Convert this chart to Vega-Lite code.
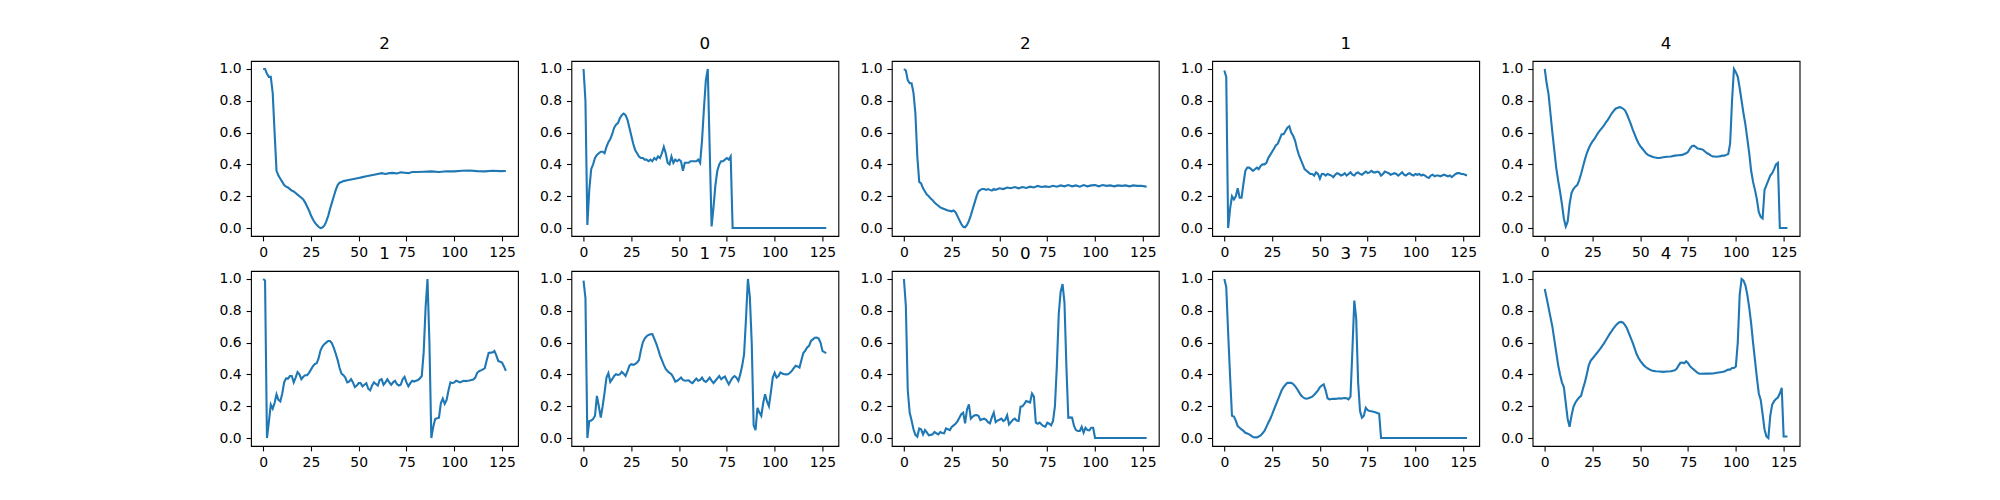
{
  "$schema": "https://vega.github.io/schema/vega-lite/v6.json",
  "background": "white",
  "padding": {"left": 218, "top": 35, "right": 10, "bottom": 10},
  "data": {"values": [
{"p":0,"t":0,"v":1.0},{"p":0,"t":1,"v":1.0},{"p":0,"t":2,"v":0.97},{"p":0,"t":3,"v":0.95},{"p":0,"t":4,"v":0.95},{"p":0,"t":5,"v":0.85},{"p":0,"t":6,"v":0.6},{"p":0,"t":7,"v":0.36},{"p":0,"t":8,"v":0.33},{"p":0,"t":9,"v":0.31},{"p":0,"t":10,"v":0.29},{"p":0,"t":11,"v":0.27},{"p":0,"t":12,"v":0.26},{"p":0,"t":13,"v":0.255},{"p":0,"t":14,"v":0.245},{"p":0,"t":15,"v":0.235},{"p":0,"t":16,"v":0.23},{"p":0,"t":17,"v":0.22},{"p":0,"t":18,"v":0.21},{"p":0,"t":19,"v":0.2},{"p":0,"t":20,"v":0.19},{"p":0,"t":21,"v":0.18},{"p":0,"t":22,"v":0.16},{"p":0,"t":23,"v":0.135},{"p":0,"t":24,"v":0.11},{"p":0,"t":25,"v":0.08},{"p":0,"t":26,"v":0.055},{"p":0,"t":27,"v":0.035},{"p":0,"t":28,"v":0.02},{"p":0,"t":29,"v":0.008},{"p":0,"t":30,"v":0.0},{"p":0,"t":31,"v":0.003},{"p":0,"t":32,"v":0.015},{"p":0,"t":33,"v":0.04},{"p":0,"t":34,"v":0.075},{"p":0,"t":35,"v":0.12},{"p":0,"t":36,"v":0.16},{"p":0,"t":37,"v":0.2},{"p":0,"t":38,"v":0.24},{"p":0,"t":39,"v":0.27},{"p":0,"t":40,"v":0.285},{"p":0,"t":41,"v":0.29},{"p":0,"t":42,"v":0.295},{"p":0,"t":44,"v":0.3},{"p":0,"t":46,"v":0.305},{"p":0,"t":48,"v":0.31},{"p":0,"t":50,"v":0.315},{"p":0,"t":52,"v":0.32},{"p":0,"t":54,"v":0.325},{"p":0,"t":56,"v":0.33},{"p":0,"t":58,"v":0.335},{"p":0,"t":60,"v":0.34},{"p":0,"t":62,"v":0.345},{"p":0,"t":64,"v":0.34},{"p":0,"t":66,"v":0.345},{"p":0,"t":68,"v":0.347},{"p":0,"t":70,"v":0.343},{"p":0,"t":72,"v":0.35},{"p":0,"t":74,"v":0.348},{"p":0,"t":76,"v":0.345},{"p":0,"t":78,"v":0.352},{"p":0,"t":80,"v":0.352},{"p":0,"t":84,"v":0.354},{"p":0,"t":88,"v":0.356},{"p":0,"t":92,"v":0.352},{"p":0,"t":96,"v":0.357},{"p":0,"t":100,"v":0.356},{"p":0,"t":104,"v":0.36},{"p":0,"t":108,"v":0.362},{"p":0,"t":112,"v":0.358},{"p":0,"t":116,"v":0.356},{"p":0,"t":120,"v":0.36},{"p":0,"t":124,"v":0.358},{"p":0,"t":127,"v":0.359},
{"p":1,"t":0,"v":1.0},{"p":1,"t":1,"v":0.8},{"p":1,"t":2,"v":0.02},{"p":1,"t":3,"v":0.24},{"p":1,"t":4,"v":0.37},{"p":1,"t":5,"v":0.4},{"p":1,"t":6,"v":0.44},{"p":1,"t":7,"v":0.46},{"p":1,"t":8,"v":0.47},{"p":1,"t":9,"v":0.48},{"p":1,"t":10,"v":0.48},{"p":1,"t":11,"v":0.47},{"p":1,"t":12,"v":0.51},{"p":1,"t":13,"v":0.54},{"p":1,"t":14,"v":0.56},{"p":1,"t":15,"v":0.59},{"p":1,"t":16,"v":0.63},{"p":1,"t":17,"v":0.65},{"p":1,"t":18,"v":0.66},{"p":1,"t":19,"v":0.69},{"p":1,"t":20,"v":0.71},{"p":1,"t":21,"v":0.72},{"p":1,"t":22,"v":0.71},{"p":1,"t":23,"v":0.68},{"p":1,"t":24,"v":0.63},{"p":1,"t":25,"v":0.58},{"p":1,"t":26,"v":0.53},{"p":1,"t":27,"v":0.49},{"p":1,"t":28,"v":0.47},{"p":1,"t":29,"v":0.45},{"p":1,"t":30,"v":0.44},{"p":1,"t":31,"v":0.44},{"p":1,"t":32,"v":0.43},{"p":1,"t":33,"v":0.43},{"p":1,"t":34,"v":0.42},{"p":1,"t":35,"v":0.43},{"p":1,"t":36,"v":0.42},{"p":1,"t":37,"v":0.44},{"p":1,"t":38,"v":0.43},{"p":1,"t":39,"v":0.45},{"p":1,"t":40,"v":0.44},{"p":1,"t":41,"v":0.47},{"p":1,"t":42,"v":0.51},{"p":1,"t":43,"v":0.47},{"p":1,"t":44,"v":0.41},{"p":1,"t":45,"v":0.4},{"p":1,"t":46,"v":0.45},{"p":1,"t":47,"v":0.41},{"p":1,"t":48,"v":0.43},{"p":1,"t":49,"v":0.42},{"p":1,"t":50,"v":0.43},{"p":1,"t":51,"v":0.42},{"p":1,"t":52,"v":0.36},{"p":1,"t":53,"v":0.41},{"p":1,"t":54,"v":0.41},{"p":1,"t":55,"v":0.41},{"p":1,"t":56,"v":0.42},{"p":1,"t":57,"v":0.42},{"p":1,"t":58,"v":0.42},{"p":1,"t":59,"v":0.42},{"p":1,"t":60,"v":0.43},{"p":1,"t":61,"v":0.41},{"p":1,"t":62,"v":0.55},{"p":1,"t":63,"v":0.75},{"p":1,"t":64,"v":0.93},{"p":1,"t":65,"v":1.0},{"p":1,"t":66,"v":0.5},{"p":1,"t":67,"v":0.01},{"p":1,"t":68,"v":0.13},{"p":1,"t":69,"v":0.27},{"p":1,"t":70,"v":0.36},{"p":1,"t":71,"v":0.4},{"p":1,"t":72,"v":0.42},{"p":1,"t":73,"v":0.42},{"p":1,"t":74,"v":0.43},{"p":1,"t":75,"v":0.44},{"p":1,"t":76,"v":0.43},{"p":1,"t":77,"v":0.45},{"p":1,"t":78,"v":0.0},{"p":1,"t":90,"v":0.0},{"p":1,"t":100,"v":0.0},{"p":1,"t":110,"v":0.0},{"p":1,"t":120,"v":0.0},{"p":1,"t":127,"v":0.0},
{"p":2,"t":0,"v":1.0},{"p":2,"t":1,"v":0.99},{"p":2,"t":2,"v":0.93},{"p":2,"t":3,"v":0.91},{"p":2,"t":4,"v":0.91},{"p":2,"t":5,"v":0.85},{"p":2,"t":6,"v":0.72},{"p":2,"t":7,"v":0.45},{"p":2,"t":8,"v":0.29},{"p":2,"t":9,"v":0.28},{"p":2,"t":10,"v":0.25},{"p":2,"t":11,"v":0.23},{"p":2,"t":12,"v":0.21},{"p":2,"t":13,"v":0.2},{"p":2,"t":14,"v":0.185},{"p":2,"t":15,"v":0.175},{"p":2,"t":16,"v":0.16},{"p":2,"t":17,"v":0.15},{"p":2,"t":18,"v":0.14},{"p":2,"t":19,"v":0.13},{"p":2,"t":20,"v":0.125},{"p":2,"t":21,"v":0.12},{"p":2,"t":22,"v":0.115},{"p":2,"t":23,"v":0.11},{"p":2,"t":24,"v":0.108},{"p":2,"t":25,"v":0.105},{"p":2,"t":26,"v":0.11},{"p":2,"t":27,"v":0.1},{"p":2,"t":28,"v":0.075},{"p":2,"t":29,"v":0.05},{"p":2,"t":30,"v":0.025},{"p":2,"t":31,"v":0.008},{"p":2,"t":32,"v":0.005},{"p":2,"t":33,"v":0.02},{"p":2,"t":34,"v":0.045},{"p":2,"t":35,"v":0.08},{"p":2,"t":36,"v":0.12},{"p":2,"t":37,"v":0.16},{"p":2,"t":38,"v":0.2},{"p":2,"t":39,"v":0.23},{"p":2,"t":40,"v":0.24},{"p":2,"t":41,"v":0.245},{"p":2,"t":42,"v":0.245},{"p":2,"t":43,"v":0.24},{"p":2,"t":44,"v":0.245},{"p":2,"t":45,"v":0.24},{"p":2,"t":46,"v":0.235},{"p":2,"t":47,"v":0.245},{"p":2,"t":48,"v":0.24},{"p":2,"t":49,"v":0.245},{"p":2,"t":50,"v":0.25},{"p":2,"t":52,"v":0.245},{"p":2,"t":54,"v":0.255},{"p":2,"t":56,"v":0.25},{"p":2,"t":58,"v":0.258},{"p":2,"t":60,"v":0.25},{"p":2,"t":62,"v":0.258},{"p":2,"t":64,"v":0.252},{"p":2,"t":66,"v":0.26},{"p":2,"t":68,"v":0.255},{"p":2,"t":70,"v":0.265},{"p":2,"t":72,"v":0.258},{"p":2,"t":74,"v":0.262},{"p":2,"t":76,"v":0.258},{"p":2,"t":78,"v":0.266},{"p":2,"t":80,"v":0.26},{"p":2,"t":82,"v":0.268},{"p":2,"t":84,"v":0.262},{"p":2,"t":86,"v":0.27},{"p":2,"t":88,"v":0.262},{"p":2,"t":90,"v":0.268},{"p":2,"t":92,"v":0.26},{"p":2,"t":94,"v":0.27},{"p":2,"t":96,"v":0.262},{"p":2,"t":98,"v":0.268},{"p":2,"t":100,"v":0.27},{"p":2,"t":102,"v":0.262},{"p":2,"t":104,"v":0.27},{"p":2,"t":106,"v":0.265},{"p":2,"t":108,"v":0.268},{"p":2,"t":110,"v":0.262},{"p":2,"t":112,"v":0.268},{"p":2,"t":114,"v":0.265},{"p":2,"t":116,"v":0.268},{"p":2,"t":118,"v":0.262},{"p":2,"t":120,"v":0.268},{"p":2,"t":122,"v":0.265},{"p":2,"t":124,"v":0.266},{"p":2,"t":126,"v":0.262},{"p":2,"t":127,"v":0.26},
{"p":3,"t":0,"v":0.99},{"p":3,"t":1,"v":0.95},{"p":3,"t":2,"v":0.0},{"p":3,"t":3,"v":0.12},{"p":3,"t":4,"v":0.2},{"p":3,"t":5,"v":0.18},{"p":3,"t":6,"v":0.2},{"p":3,"t":7,"v":0.25},{"p":3,"t":8,"v":0.19},{"p":3,"t":9,"v":0.19},{"p":3,"t":10,"v":0.28},{"p":3,"t":11,"v":0.36},{"p":3,"t":12,"v":0.38},{"p":3,"t":13,"v":0.38},{"p":3,"t":14,"v":0.37},{"p":3,"t":15,"v":0.36},{"p":3,"t":16,"v":0.37},{"p":3,"t":17,"v":0.38},{"p":3,"t":18,"v":0.37},{"p":3,"t":19,"v":0.39},{"p":3,"t":20,"v":0.4},{"p":3,"t":21,"v":0.4},{"p":3,"t":22,"v":0.41},{"p":3,"t":23,"v":0.44},{"p":3,"t":24,"v":0.46},{"p":3,"t":25,"v":0.48},{"p":3,"t":26,"v":0.5},{"p":3,"t":27,"v":0.52},{"p":3,"t":28,"v":0.53},{"p":3,"t":29,"v":0.56},{"p":3,"t":30,"v":0.59},{"p":3,"t":31,"v":0.59},{"p":3,"t":32,"v":0.61},{"p":3,"t":33,"v":0.63},{"p":3,"t":34,"v":0.64},{"p":3,"t":35,"v":0.6},{"p":3,"t":36,"v":0.58},{"p":3,"t":37,"v":0.55},{"p":3,"t":38,"v":0.5},{"p":3,"t":39,"v":0.46},{"p":3,"t":40,"v":0.43},{"p":3,"t":41,"v":0.4},{"p":3,"t":42,"v":0.37},{"p":3,"t":43,"v":0.36},{"p":3,"t":44,"v":0.35},{"p":3,"t":45,"v":0.34},{"p":3,"t":46,"v":0.34},{"p":3,"t":47,"v":0.33},{"p":3,"t":48,"v":0.35},{"p":3,"t":49,"v":0.34},{"p":3,"t":50,"v":0.31},{"p":3,"t":51,"v":0.34},{"p":3,"t":52,"v":0.34},{"p":3,"t":53,"v":0.33},{"p":3,"t":54,"v":0.34},{"p":3,"t":55,"v":0.335},{"p":3,"t":56,"v":0.33},{"p":3,"t":57,"v":0.32},{"p":3,"t":58,"v":0.335},{"p":3,"t":59,"v":0.345},{"p":3,"t":60,"v":0.34},{"p":3,"t":61,"v":0.33},{"p":3,"t":62,"v":0.335},{"p":3,"t":63,"v":0.345},{"p":3,"t":64,"v":0.33},{"p":3,"t":65,"v":0.34},{"p":3,"t":66,"v":0.35},{"p":3,"t":67,"v":0.335},{"p":3,"t":68,"v":0.33},{"p":3,"t":69,"v":0.345},{"p":3,"t":70,"v":0.35},{"p":3,"t":71,"v":0.34},{"p":3,"t":72,"v":0.335},{"p":3,"t":73,"v":0.345},{"p":3,"t":74,"v":0.355},{"p":3,"t":75,"v":0.345},{"p":3,"t":76,"v":0.35},{"p":3,"t":77,"v":0.36},{"p":3,"t":78,"v":0.35},{"p":3,"t":79,"v":0.35},{"p":3,"t":80,"v":0.355},{"p":3,"t":81,"v":0.35},{"p":3,"t":82,"v":0.33},{"p":3,"t":83,"v":0.34},{"p":3,"t":84,"v":0.355},{"p":3,"t":85,"v":0.35},{"p":3,"t":86,"v":0.345},{"p":3,"t":87,"v":0.335},{"p":3,"t":88,"v":0.34},{"p":3,"t":89,"v":0.345},{"p":3,"t":90,"v":0.34},{"p":3,"t":91,"v":0.33},{"p":3,"t":92,"v":0.34},{"p":3,"t":93,"v":0.35},{"p":3,"t":94,"v":0.335},{"p":3,"t":95,"v":0.33},{"p":3,"t":96,"v":0.34},{"p":3,"t":97,"v":0.345},{"p":3,"t":98,"v":0.335},{"p":3,"t":99,"v":0.33},{"p":3,"t":100,"v":0.34},{"p":3,"t":101,"v":0.335},{"p":3,"t":102,"v":0.34},{"p":3,"t":103,"v":0.33},{"p":3,"t":104,"v":0.335},{"p":3,"t":105,"v":0.33},{"p":3,"t":106,"v":0.32},{"p":3,"t":107,"v":0.315},{"p":3,"t":108,"v":0.33},{"p":3,"t":109,"v":0.335},{"p":3,"t":110,"v":0.325},{"p":3,"t":111,"v":0.33},{"p":3,"t":112,"v":0.33},{"p":3,"t":113,"v":0.325},{"p":3,"t":114,"v":0.33},{"p":3,"t":115,"v":0.335},{"p":3,"t":116,"v":0.33},{"p":3,"t":117,"v":0.325},{"p":3,"t":118,"v":0.33},{"p":3,"t":119,"v":0.32},{"p":3,"t":120,"v":0.33},{"p":3,"t":121,"v":0.34},{"p":3,"t":122,"v":0.345},{"p":3,"t":123,"v":0.345},{"p":3,"t":124,"v":0.34},{"p":3,"t":125,"v":0.34},{"p":3,"t":126,"v":0.335},{"p":3,"t":127,"v":0.33},
{"p":4,"t":0,"v":1.0},{"p":4,"t":1,"v":0.91},{"p":4,"t":2,"v":0.84},{"p":4,"t":3,"v":0.72},{"p":4,"t":4,"v":0.6},{"p":4,"t":5,"v":0.49},{"p":4,"t":6,"v":0.38},{"p":4,"t":7,"v":0.3},{"p":4,"t":8,"v":0.23},{"p":4,"t":9,"v":0.15},{"p":4,"t":10,"v":0.06},{"p":4,"t":11,"v":0.01},{"p":4,"t":12,"v":0.04},{"p":4,"t":13,"v":0.15},{"p":4,"t":14,"v":0.22},{"p":4,"t":15,"v":0.245},{"p":4,"t":16,"v":0.26},{"p":4,"t":17,"v":0.27},{"p":4,"t":18,"v":0.3},{"p":4,"t":19,"v":0.34},{"p":4,"t":20,"v":0.385},{"p":4,"t":21,"v":0.43},{"p":4,"t":22,"v":0.47},{"p":4,"t":23,"v":0.5},{"p":4,"t":24,"v":0.525},{"p":4,"t":25,"v":0.545},{"p":4,"t":26,"v":0.56},{"p":4,"t":27,"v":0.58},{"p":4,"t":28,"v":0.6},{"p":4,"t":29,"v":0.615},{"p":4,"t":30,"v":0.63},{"p":4,"t":31,"v":0.645},{"p":4,"t":32,"v":0.665},{"p":4,"t":33,"v":0.68},{"p":4,"t":34,"v":0.7},{"p":4,"t":35,"v":0.72},{"p":4,"t":36,"v":0.735},{"p":4,"t":37,"v":0.75},{"p":4,"t":38,"v":0.755},{"p":4,"t":39,"v":0.76},{"p":4,"t":40,"v":0.758},{"p":4,"t":41,"v":0.75},{"p":4,"t":42,"v":0.74},{"p":4,"t":43,"v":0.715},{"p":4,"t":44,"v":0.685},{"p":4,"t":45,"v":0.655},{"p":4,"t":46,"v":0.62},{"p":4,"t":47,"v":0.59},{"p":4,"t":48,"v":0.56},{"p":4,"t":49,"v":0.535},{"p":4,"t":50,"v":0.515},{"p":4,"t":51,"v":0.5},{"p":4,"t":52,"v":0.485},{"p":4,"t":53,"v":0.47},{"p":4,"t":54,"v":0.46},{"p":4,"t":55,"v":0.455},{"p":4,"t":56,"v":0.45},{"p":4,"t":57,"v":0.445},{"p":4,"t":58,"v":0.443},{"p":4,"t":59,"v":0.44},{"p":4,"t":60,"v":0.44},{"p":4,"t":62,"v":0.445},{"p":4,"t":64,"v":0.448},{"p":4,"t":66,"v":0.45},{"p":4,"t":68,"v":0.455},{"p":4,"t":70,"v":0.458},{"p":4,"t":72,"v":0.46},{"p":4,"t":73,"v":0.465},{"p":4,"t":74,"v":0.47},{"p":4,"t":75,"v":0.48},{"p":4,"t":76,"v":0.5},{"p":4,"t":77,"v":0.515},{"p":4,"t":78,"v":0.518},{"p":4,"t":79,"v":0.51},{"p":4,"t":80,"v":0.5},{"p":4,"t":81,"v":0.498},{"p":4,"t":82,"v":0.496},{"p":4,"t":83,"v":0.49},{"p":4,"t":84,"v":0.48},{"p":4,"t":85,"v":0.47},{"p":4,"t":86,"v":0.464},{"p":4,"t":87,"v":0.455},{"p":4,"t":88,"v":0.45},{"p":4,"t":89,"v":0.45},{"p":4,"t":90,"v":0.448},{"p":4,"t":91,"v":0.45},{"p":4,"t":92,"v":0.452},{"p":4,"t":93,"v":0.455},{"p":4,"t":94,"v":0.455},{"p":4,"t":95,"v":0.46},{"p":4,"t":96,"v":0.465},{"p":4,"t":97,"v":0.53},{"p":4,"t":98,"v":0.8},{"p":4,"t":99,"v":1.0},{"p":4,"t":100,"v":0.98},{"p":4,"t":101,"v":0.95},{"p":4,"t":102,"v":0.88},{"p":4,"t":103,"v":0.8},{"p":4,"t":104,"v":0.72},{"p":4,"t":105,"v":0.65},{"p":4,"t":106,"v":0.56},{"p":4,"t":107,"v":0.47},{"p":4,"t":108,"v":0.36},{"p":4,"t":109,"v":0.29},{"p":4,"t":110,"v":0.24},{"p":4,"t":111,"v":0.18},{"p":4,"t":112,"v":0.1},{"p":4,"t":113,"v":0.07},{"p":4,"t":114,"v":0.06},{"p":4,"t":115,"v":0.24},{"p":4,"t":116,"v":0.27},{"p":4,"t":117,"v":0.3},{"p":4,"t":118,"v":0.33},{"p":4,"t":119,"v":0.345},{"p":4,"t":120,"v":0.37},{"p":4,"t":121,"v":0.4},{"p":4,"t":122,"v":0.41},{"p":4,"t":123,"v":0.0},{"p":4,"t":124,"v":0.0},{"p":4,"t":125,"v":0.0},{"p":4,"t":126,"v":0.0},{"p":4,"t":127,"v":0.0},
{"p":5,"t":0,"v":1.0},{"p":5,"t":1,"v":0.99},{"p":5,"t":2,"v":0.0},{"p":5,"t":3,"v":0.1},{"p":5,"t":4,"v":0.21},{"p":5,"t":5,"v":0.185},{"p":5,"t":6,"v":0.22},{"p":5,"t":7,"v":0.275},{"p":5,"t":8,"v":0.24},{"p":5,"t":9,"v":0.23},{"p":5,"t":10,"v":0.28},{"p":5,"t":11,"v":0.35},{"p":5,"t":12,"v":0.375},{"p":5,"t":13,"v":0.374},{"p":5,"t":14,"v":0.39},{"p":5,"t":15,"v":0.39},{"p":5,"t":16,"v":0.35},{"p":5,"t":17,"v":0.38},{"p":5,"t":18,"v":0.415},{"p":5,"t":19,"v":0.4},{"p":5,"t":20,"v":0.37},{"p":5,"t":21,"v":0.385},{"p":5,"t":22,"v":0.395},{"p":5,"t":23,"v":0.395},{"p":5,"t":24,"v":0.41},{"p":5,"t":25,"v":0.43},{"p":5,"t":26,"v":0.45},{"p":5,"t":27,"v":0.465},{"p":5,"t":28,"v":0.47},{"p":5,"t":29,"v":0.5},{"p":5,"t":30,"v":0.55},{"p":5,"t":31,"v":0.575},{"p":5,"t":32,"v":0.59},{"p":5,"t":33,"v":0.6},{"p":5,"t":34,"v":0.61},{"p":5,"t":35,"v":0.61},{"p":5,"t":36,"v":0.595},{"p":5,"t":37,"v":0.565},{"p":5,"t":38,"v":0.53},{"p":5,"t":39,"v":0.49},{"p":5,"t":40,"v":0.44},{"p":5,"t":41,"v":0.405},{"p":5,"t":42,"v":0.395},{"p":5,"t":43,"v":0.38},{"p":5,"t":44,"v":0.35},{"p":5,"t":45,"v":0.355},{"p":5,"t":46,"v":0.37},{"p":5,"t":47,"v":0.35},{"p":5,"t":48,"v":0.32},{"p":5,"t":49,"v":0.33},{"p":5,"t":50,"v":0.345},{"p":5,"t":51,"v":0.345},{"p":5,"t":52,"v":0.325},{"p":5,"t":53,"v":0.335},{"p":5,"t":54,"v":0.345},{"p":5,"t":55,"v":0.31},{"p":5,"t":56,"v":0.3},{"p":5,"t":57,"v":0.33},{"p":5,"t":58,"v":0.35},{"p":5,"t":59,"v":0.34},{"p":5,"t":60,"v":0.33},{"p":5,"t":61,"v":0.365},{"p":5,"t":62,"v":0.37},{"p":5,"t":63,"v":0.335},{"p":5,"t":64,"v":0.35},{"p":5,"t":65,"v":0.37},{"p":5,"t":66,"v":0.35},{"p":5,"t":67,"v":0.335},{"p":5,"t":68,"v":0.35},{"p":5,"t":69,"v":0.36},{"p":5,"t":70,"v":0.34},{"p":5,"t":71,"v":0.33},{"p":5,"t":72,"v":0.335},{"p":5,"t":73,"v":0.37},{"p":5,"t":74,"v":0.385},{"p":5,"t":75,"v":0.35},{"p":5,"t":76,"v":0.325},{"p":5,"t":77,"v":0.345},{"p":5,"t":78,"v":0.36},{"p":5,"t":79,"v":0.355},{"p":5,"t":80,"v":0.36},{"p":5,"t":81,"v":0.365},{"p":5,"t":82,"v":0.375},{"p":5,"t":83,"v":0.39},{"p":5,"t":84,"v":0.54},{"p":5,"t":85,"v":0.82},{"p":5,"t":86,"v":1.0},{"p":5,"t":87,"v":0.6},{"p":5,"t":88,"v":0.0},{"p":5,"t":89,"v":0.07},{"p":5,"t":90,"v":0.12},{"p":5,"t":91,"v":0.125},{"p":5,"t":92,"v":0.128},{"p":5,"t":93,"v":0.22},{"p":5,"t":94,"v":0.248},{"p":5,"t":95,"v":0.215},{"p":5,"t":96,"v":0.24},{"p":5,"t":97,"v":0.3},{"p":5,"t":98,"v":0.35},{"p":5,"t":99,"v":0.345},{"p":5,"t":100,"v":0.35},{"p":5,"t":101,"v":0.36},{"p":5,"t":102,"v":0.355},{"p":5,"t":103,"v":0.35},{"p":5,"t":104,"v":0.355},{"p":5,"t":105,"v":0.36},{"p":5,"t":106,"v":0.358},{"p":5,"t":107,"v":0.36},{"p":5,"t":108,"v":0.362},{"p":5,"t":109,"v":0.365},{"p":5,"t":110,"v":0.368},{"p":5,"t":111,"v":0.38},{"p":5,"t":112,"v":0.41},{"p":5,"t":113,"v":0.42},{"p":5,"t":114,"v":0.425},{"p":5,"t":115,"v":0.432},{"p":5,"t":116,"v":0.44},{"p":5,"t":117,"v":0.49},{"p":5,"t":118,"v":0.535},{"p":5,"t":119,"v":0.537},{"p":5,"t":120,"v":0.538},{"p":5,"t":121,"v":0.548},{"p":5,"t":122,"v":0.52},{"p":5,"t":123,"v":0.485},{"p":5,"t":124,"v":0.48},{"p":5,"t":125,"v":0.475},{"p":5,"t":126,"v":0.45},{"p":5,"t":127,"v":0.422},
{"p":6,"t":0,"v":0.99},{"p":6,"t":1,"v":0.88},{"p":6,"t":2,"v":0.0},{"p":6,"t":3,"v":0.107},{"p":6,"t":4,"v":0.11},{"p":6,"t":5,"v":0.12},{"p":6,"t":6,"v":0.14},{"p":6,"t":7,"v":0.265},{"p":6,"t":8,"v":0.2},{"p":6,"t":9,"v":0.128},{"p":6,"t":10,"v":0.2},{"p":6,"t":11,"v":0.286},{"p":6,"t":12,"v":0.38},{"p":6,"t":13,"v":0.408},{"p":6,"t":14,"v":0.353},{"p":6,"t":15,"v":0.37},{"p":6,"t":16,"v":0.39},{"p":6,"t":17,"v":0.401},{"p":6,"t":18,"v":0.397},{"p":6,"t":19,"v":0.4},{"p":6,"t":20,"v":0.416},{"p":6,"t":21,"v":0.405},{"p":6,"t":22,"v":0.39},{"p":6,"t":23,"v":0.42},{"p":6,"t":24,"v":0.455},{"p":6,"t":25,"v":0.464},{"p":6,"t":26,"v":0.46},{"p":6,"t":27,"v":0.465},{"p":6,"t":28,"v":0.475},{"p":6,"t":29,"v":0.49},{"p":6,"t":30,"v":0.55},{"p":6,"t":31,"v":0.6},{"p":6,"t":32,"v":0.625},{"p":6,"t":33,"v":0.64},{"p":6,"t":34,"v":0.648},{"p":6,"t":35,"v":0.652},{"p":6,"t":36,"v":0.653},{"p":6,"t":37,"v":0.625},{"p":6,"t":38,"v":0.595},{"p":6,"t":39,"v":0.56},{"p":6,"t":40,"v":0.52},{"p":6,"t":41,"v":0.49},{"p":6,"t":42,"v":0.46},{"p":6,"t":43,"v":0.435},{"p":6,"t":44,"v":0.42},{"p":6,"t":45,"v":0.41},{"p":6,"t":46,"v":0.401},{"p":6,"t":47,"v":0.38},{"p":6,"t":48,"v":0.355},{"p":6,"t":49,"v":0.36},{"p":6,"t":50,"v":0.37},{"p":6,"t":51,"v":0.38},{"p":6,"t":52,"v":0.365},{"p":6,"t":53,"v":0.36},{"p":6,"t":54,"v":0.362},{"p":6,"t":55,"v":0.363},{"p":6,"t":56,"v":0.352},{"p":6,"t":57,"v":0.345},{"p":6,"t":58,"v":0.36},{"p":6,"t":59,"v":0.374},{"p":6,"t":60,"v":0.36},{"p":6,"t":61,"v":0.365},{"p":6,"t":62,"v":0.38},{"p":6,"t":63,"v":0.36},{"p":6,"t":64,"v":0.353},{"p":6,"t":65,"v":0.365},{"p":6,"t":66,"v":0.38},{"p":6,"t":67,"v":0.36},{"p":6,"t":68,"v":0.345},{"p":6,"t":69,"v":0.36},{"p":6,"t":70,"v":0.375},{"p":6,"t":71,"v":0.39},{"p":6,"t":72,"v":0.37},{"p":6,"t":73,"v":0.38},{"p":6,"t":74,"v":0.387},{"p":6,"t":75,"v":0.36},{"p":6,"t":76,"v":0.338},{"p":6,"t":77,"v":0.36},{"p":6,"t":78,"v":0.38},{"p":6,"t":79,"v":0.39},{"p":6,"t":80,"v":0.38},{"p":6,"t":81,"v":0.359},{"p":6,"t":82,"v":0.4},{"p":6,"t":83,"v":0.454},{"p":6,"t":84,"v":0.527},{"p":6,"t":85,"v":0.75},{"p":6,"t":86,"v":1.0},{"p":6,"t":87,"v":0.89},{"p":6,"t":88,"v":0.6},{"p":6,"t":89,"v":0.08},{"p":6,"t":90,"v":0.05},{"p":6,"t":91,"v":0.19},{"p":6,"t":92,"v":0.16},{"p":6,"t":93,"v":0.139},{"p":6,"t":94,"v":0.22},{"p":6,"t":95,"v":0.275},{"p":6,"t":96,"v":0.23},{"p":6,"t":97,"v":0.2},{"p":6,"t":98,"v":0.286},{"p":6,"t":99,"v":0.38},{"p":6,"t":100,"v":0.41},{"p":6,"t":101,"v":0.38},{"p":6,"t":102,"v":0.39},{"p":6,"t":103,"v":0.412},{"p":6,"t":104,"v":0.405},{"p":6,"t":105,"v":0.401},{"p":6,"t":106,"v":0.4},{"p":6,"t":107,"v":0.401},{"p":6,"t":108,"v":0.41},{"p":6,"t":109,"v":0.422},{"p":6,"t":110,"v":0.44},{"p":6,"t":111,"v":0.454},{"p":6,"t":112,"v":0.45},{"p":6,"t":113,"v":0.443},{"p":6,"t":114,"v":0.49},{"p":6,"t":115,"v":0.534},{"p":6,"t":116,"v":0.55},{"p":6,"t":117,"v":0.57},{"p":6,"t":118,"v":0.58},{"p":6,"t":119,"v":0.61},{"p":6,"t":120,"v":0.62},{"p":6,"t":121,"v":0.63},{"p":6,"t":122,"v":0.632},{"p":6,"t":123,"v":0.625},{"p":6,"t":124,"v":0.6},{"p":6,"t":125,"v":0.548},{"p":6,"t":126,"v":0.54},{"p":6,"t":127,"v":0.534},
{"p":7,"t":0,"v":1.0},{"p":7,"t":1,"v":0.83},{"p":7,"t":2,"v":0.3},{"p":7,"t":3,"v":0.16},{"p":7,"t":4,"v":0.11},{"p":7,"t":5,"v":0.055},{"p":7,"t":6,"v":0.02},{"p":7,"t":7,"v":0.008},{"p":7,"t":8,"v":0.06},{"p":7,"t":9,"v":0.055},{"p":7,"t":10,"v":0.023},{"p":7,"t":11,"v":0.05},{"p":7,"t":12,"v":0.035},{"p":7,"t":13,"v":0.017},{"p":7,"t":14,"v":0.02},{"p":7,"t":15,"v":0.023},{"p":7,"t":16,"v":0.038},{"p":7,"t":17,"v":0.03},{"p":7,"t":18,"v":0.023},{"p":7,"t":19,"v":0.038},{"p":7,"t":20,"v":0.032},{"p":7,"t":21,"v":0.03},{"p":7,"t":22,"v":0.06},{"p":7,"t":23,"v":0.055},{"p":7,"t":24,"v":0.05},{"p":7,"t":25,"v":0.07},{"p":7,"t":26,"v":0.08},{"p":7,"t":27,"v":0.09},{"p":7,"t":28,"v":0.105},{"p":7,"t":29,"v":0.128},{"p":7,"t":30,"v":0.15},{"p":7,"t":31,"v":0.16},{"p":7,"t":32,"v":0.092},{"p":7,"t":33,"v":0.18},{"p":7,"t":34,"v":0.212},{"p":7,"t":35,"v":0.122},{"p":7,"t":36,"v":0.135},{"p":7,"t":37,"v":0.143},{"p":7,"t":38,"v":0.145},{"p":7,"t":39,"v":0.14},{"p":7,"t":40,"v":0.113},{"p":7,"t":41,"v":0.118},{"p":7,"t":42,"v":0.122},{"p":7,"t":43,"v":0.115},{"p":7,"t":44,"v":0.1},{"p":7,"t":45,"v":0.092},{"p":7,"t":46,"v":0.13},{"p":7,"t":47,"v":0.16},{"p":7,"t":48,"v":0.1},{"p":7,"t":49,"v":0.11},{"p":7,"t":50,"v":0.115},{"p":7,"t":51,"v":0.122},{"p":7,"t":52,"v":0.107},{"p":7,"t":53,"v":0.115},{"p":7,"t":54,"v":0.143},{"p":7,"t":55,"v":0.086},{"p":7,"t":56,"v":0.1},{"p":7,"t":57,"v":0.115},{"p":7,"t":58,"v":0.122},{"p":7,"t":59,"v":0.11},{"p":7,"t":60,"v":0.107},{"p":7,"t":61,"v":0.197},{"p":7,"t":62,"v":0.2},{"p":7,"t":63,"v":0.215},{"p":7,"t":64,"v":0.233},{"p":7,"t":65,"v":0.228},{"p":7,"t":66,"v":0.223},{"p":7,"t":67,"v":0.28},{"p":7,"t":68,"v":0.26},{"p":7,"t":69,"v":0.097},{"p":7,"t":70,"v":0.09},{"p":7,"t":71,"v":0.097},{"p":7,"t":72,"v":0.085},{"p":7,"t":73,"v":0.075},{"p":7,"t":74,"v":0.071},{"p":7,"t":75,"v":0.097},{"p":7,"t":76,"v":0.09},{"p":7,"t":77,"v":0.08},{"p":7,"t":78,"v":0.107},{"p":7,"t":79,"v":0.2},{"p":7,"t":80,"v":0.45},{"p":7,"t":81,"v":0.78},{"p":7,"t":82,"v":0.92},{"p":7,"t":83,"v":0.968},{"p":7,"t":84,"v":0.85},{"p":7,"t":85,"v":0.45},{"p":7,"t":86,"v":0.128},{"p":7,"t":87,"v":0.13},{"p":7,"t":88,"v":0.128},{"p":7,"t":89,"v":0.076},{"p":7,"t":90,"v":0.05},{"p":7,"t":91,"v":0.044},{"p":7,"t":92,"v":0.044},{"p":7,"t":93,"v":0.07},{"p":7,"t":94,"v":0.034},{"p":7,"t":95,"v":0.065},{"p":7,"t":96,"v":0.05},{"p":7,"t":97,"v":0.048},{"p":7,"t":98,"v":0.065},{"p":7,"t":99,"v":0.065},{"p":7,"t":100,"v":0.0},{"p":7,"t":110,"v":0.0},{"p":7,"t":120,"v":0.0},{"p":7,"t":127,"v":0.0},
{"p":8,"t":0,"v":1.0},{"p":8,"t":1,"v":0.95},{"p":8,"t":2,"v":0.66},{"p":8,"t":3,"v":0.39},{"p":8,"t":4,"v":0.14},{"p":8,"t":5,"v":0.135},{"p":8,"t":6,"v":0.11},{"p":8,"t":7,"v":0.075},{"p":8,"t":8,"v":0.065},{"p":8,"t":9,"v":0.054},{"p":8,"t":10,"v":0.045},{"p":8,"t":11,"v":0.033},{"p":8,"t":12,"v":0.028},{"p":8,"t":13,"v":0.023},{"p":8,"t":14,"v":0.015},{"p":8,"t":15,"v":0.006},{"p":8,"t":16,"v":0.004},{"p":8,"t":17,"v":0.004},{"p":8,"t":18,"v":0.01},{"p":8,"t":19,"v":0.017},{"p":8,"t":20,"v":0.03},{"p":8,"t":21,"v":0.044},{"p":8,"t":22,"v":0.07},{"p":8,"t":23,"v":0.096},{"p":8,"t":24,"v":0.12},{"p":8,"t":25,"v":0.149},{"p":8,"t":26,"v":0.18},{"p":8,"t":27,"v":0.21},{"p":8,"t":28,"v":0.24},{"p":8,"t":29,"v":0.27},{"p":8,"t":30,"v":0.3},{"p":8,"t":31,"v":0.32},{"p":8,"t":32,"v":0.335},{"p":8,"t":33,"v":0.347},{"p":8,"t":34,"v":0.348},{"p":8,"t":35,"v":0.347},{"p":8,"t":36,"v":0.34},{"p":8,"t":37,"v":0.326},{"p":8,"t":38,"v":0.31},{"p":8,"t":39,"v":0.29},{"p":8,"t":40,"v":0.27},{"p":8,"t":41,"v":0.258},{"p":8,"t":42,"v":0.25},{"p":8,"t":43,"v":0.248},{"p":8,"t":44,"v":0.25},{"p":8,"t":45,"v":0.255},{"p":8,"t":46,"v":0.26},{"p":8,"t":47,"v":0.272},{"p":8,"t":48,"v":0.285},{"p":8,"t":49,"v":0.3},{"p":8,"t":50,"v":0.32},{"p":8,"t":51,"v":0.33},{"p":8,"t":52,"v":0.337},{"p":8,"t":53,"v":0.3},{"p":8,"t":54,"v":0.25},{"p":8,"t":55,"v":0.243},{"p":8,"t":56,"v":0.245},{"p":8,"t":57,"v":0.247},{"p":8,"t":58,"v":0.246},{"p":8,"t":59,"v":0.247},{"p":8,"t":60,"v":0.25},{"p":8,"t":61,"v":0.248},{"p":8,"t":62,"v":0.25},{"p":8,"t":63,"v":0.252},{"p":8,"t":64,"v":0.25},{"p":8,"t":65,"v":0.243},{"p":8,"t":66,"v":0.26},{"p":8,"t":67,"v":0.55},{"p":8,"t":68,"v":0.864},{"p":8,"t":69,"v":0.75},{"p":8,"t":70,"v":0.35},{"p":8,"t":71,"v":0.17},{"p":8,"t":72,"v":0.128},{"p":8,"t":73,"v":0.14},{"p":8,"t":74,"v":0.19},{"p":8,"t":75,"v":0.175},{"p":8,"t":76,"v":0.17},{"p":8,"t":77,"v":0.168},{"p":8,"t":78,"v":0.165},{"p":8,"t":79,"v":0.162},{"p":8,"t":80,"v":0.158},{"p":8,"t":81,"v":0.153},{"p":8,"t":82,"v":0.0},{"p":8,"t":95,"v":0.0},{"p":8,"t":110,"v":0.0},{"p":8,"t":127,"v":0.0},
{"p":9,"t":0,"v":0.937},{"p":9,"t":1,"v":0.88},{"p":9,"t":2,"v":0.82},{"p":9,"t":3,"v":0.76},{"p":9,"t":4,"v":0.7},{"p":9,"t":5,"v":0.62},{"p":9,"t":6,"v":0.54},{"p":9,"t":7,"v":0.46},{"p":9,"t":8,"v":0.4},{"p":9,"t":9,"v":0.35},{"p":9,"t":10,"v":0.32},{"p":9,"t":11,"v":0.22},{"p":9,"t":12,"v":0.12},{"p":9,"t":13,"v":0.071},{"p":9,"t":14,"v":0.14},{"p":9,"t":15,"v":0.195},{"p":9,"t":16,"v":0.222},{"p":9,"t":17,"v":0.24},{"p":9,"t":18,"v":0.255},{"p":9,"t":19,"v":0.265},{"p":9,"t":20,"v":0.31},{"p":9,"t":21,"v":0.35},{"p":9,"t":22,"v":0.4},{"p":9,"t":23,"v":0.455},{"p":9,"t":24,"v":0.485},{"p":9,"t":25,"v":0.5},{"p":9,"t":26,"v":0.515},{"p":9,"t":27,"v":0.53},{"p":9,"t":28,"v":0.545},{"p":9,"t":29,"v":0.56},{"p":9,"t":30,"v":0.578},{"p":9,"t":31,"v":0.595},{"p":9,"t":32,"v":0.615},{"p":9,"t":33,"v":0.635},{"p":9,"t":34,"v":0.655},{"p":9,"t":35,"v":0.672},{"p":9,"t":36,"v":0.69},{"p":9,"t":37,"v":0.705},{"p":9,"t":38,"v":0.718},{"p":9,"t":39,"v":0.728},{"p":9,"t":40,"v":0.73},{"p":9,"t":41,"v":0.725},{"p":9,"t":42,"v":0.71},{"p":9,"t":43,"v":0.69},{"p":9,"t":44,"v":0.66},{"p":9,"t":45,"v":0.63},{"p":9,"t":46,"v":0.6},{"p":9,"t":47,"v":0.565},{"p":9,"t":48,"v":0.53},{"p":9,"t":49,"v":0.505},{"p":9,"t":50,"v":0.485},{"p":9,"t":51,"v":0.47},{"p":9,"t":52,"v":0.455},{"p":9,"t":53,"v":0.445},{"p":9,"t":54,"v":0.437},{"p":9,"t":55,"v":0.43},{"p":9,"t":56,"v":0.425},{"p":9,"t":57,"v":0.422},{"p":9,"t":58,"v":0.42},{"p":9,"t":60,"v":0.418},{"p":9,"t":62,"v":0.416},{"p":9,"t":64,"v":0.418},{"p":9,"t":66,"v":0.42},{"p":9,"t":68,"v":0.426},{"p":9,"t":69,"v":0.435},{"p":9,"t":70,"v":0.455},{"p":9,"t":71,"v":0.473},{"p":9,"t":72,"v":0.475},{"p":9,"t":73,"v":0.47},{"p":9,"t":74,"v":0.483},{"p":9,"t":75,"v":0.47},{"p":9,"t":76,"v":0.452},{"p":9,"t":77,"v":0.44},{"p":9,"t":78,"v":0.43},{"p":9,"t":79,"v":0.42},{"p":9,"t":80,"v":0.41},{"p":9,"t":81,"v":0.404},{"p":9,"t":82,"v":0.404},{"p":9,"t":84,"v":0.405},{"p":9,"t":86,"v":0.405},{"p":9,"t":88,"v":0.406},{"p":9,"t":90,"v":0.41},{"p":9,"t":92,"v":0.414},{"p":9,"t":94,"v":0.418},{"p":9,"t":96,"v":0.43},{"p":9,"t":97,"v":0.43},{"p":9,"t":98,"v":0.44},{"p":9,"t":99,"v":0.44},{"p":9,"t":100,"v":0.45},{"p":9,"t":101,"v":0.6},{"p":9,"t":102,"v":0.9},{"p":9,"t":103,"v":1.0},{"p":9,"t":104,"v":0.99},{"p":9,"t":105,"v":0.96},{"p":9,"t":106,"v":0.9},{"p":9,"t":107,"v":0.82},{"p":9,"t":108,"v":0.72},{"p":9,"t":109,"v":0.6},{"p":9,"t":110,"v":0.49},{"p":9,"t":111,"v":0.38},{"p":9,"t":112,"v":0.28},{"p":9,"t":113,"v":0.24},{"p":9,"t":114,"v":0.15},{"p":9,"t":115,"v":0.054},{"p":9,"t":116,"v":0.01},{"p":9,"t":117,"v":0.0},{"p":9,"t":118,"v":0.14},{"p":9,"t":119,"v":0.21},{"p":9,"t":120,"v":0.232},{"p":9,"t":121,"v":0.245},{"p":9,"t":122,"v":0.255},{"p":9,"t":123,"v":0.28},{"p":9,"t":124,"v":0.316},{"p":9,"t":125,"v":0.01},{"p":9,"t":126,"v":0.01},{"p":9,"t":127,"v":0.01}
  ]},
  "columns": 5,
  "spacing": {"row": 35, "column": 53.4},
  "bounds": "flush",
  "concat": [
    {"title": "2", "transform": [{"filter": "datum.p == 0"}], "width": 267, "height": 175, "mark": {"type": "line", "color": "#1f77b4", "strokeWidth": 2.1}, "encoding": {"x": {"field": "t", "type": "quantitative", "scale": {"domain": [-6.35, 133.35], "nice": false, "zero": false}, "axis": {"values": [0, 25, 50, 75, 100, 125], "title": null}}, "y": {"field": "v", "type": "quantitative", "scale": {"domain": [-0.05, 1.05], "nice": false, "zero": false}, "axis": {"values": [0, 0.2, 0.4, 0.6, 0.8, 1.0], "format": ".1f", "title": null}}}},
    {"title": "0", "transform": [{"filter": "datum.p == 1"}], "width": 267, "height": 175, "mark": {"type": "line", "color": "#1f77b4", "strokeWidth": 2.1}, "encoding": {"x": {"field": "t", "type": "quantitative", "scale": {"domain": [-6.35, 133.35], "nice": false, "zero": false}, "axis": {"values": [0, 25, 50, 75, 100, 125], "title": null}}, "y": {"field": "v", "type": "quantitative", "scale": {"domain": [-0.05, 1.05], "nice": false, "zero": false}, "axis": {"values": [0, 0.2, 0.4, 0.6, 0.8, 1.0], "format": ".1f", "title": null}}}},
    {"title": "2", "transform": [{"filter": "datum.p == 2"}], "width": 267, "height": 175, "mark": {"type": "line", "color": "#1f77b4", "strokeWidth": 2.1}, "encoding": {"x": {"field": "t", "type": "quantitative", "scale": {"domain": [-6.35, 133.35], "nice": false, "zero": false}, "axis": {"values": [0, 25, 50, 75, 100, 125], "title": null}}, "y": {"field": "v", "type": "quantitative", "scale": {"domain": [-0.05, 1.05], "nice": false, "zero": false}, "axis": {"values": [0, 0.2, 0.4, 0.6, 0.8, 1.0], "format": ".1f", "title": null}}}},
    {"title": "1", "transform": [{"filter": "datum.p == 3"}], "width": 267, "height": 175, "mark": {"type": "line", "color": "#1f77b4", "strokeWidth": 2.1}, "encoding": {"x": {"field": "t", "type": "quantitative", "scale": {"domain": [-6.35, 133.35], "nice": false, "zero": false}, "axis": {"values": [0, 25, 50, 75, 100, 125], "title": null}}, "y": {"field": "v", "type": "quantitative", "scale": {"domain": [-0.05, 1.05], "nice": false, "zero": false}, "axis": {"values": [0, 0.2, 0.4, 0.6, 0.8, 1.0], "format": ".1f", "title": null}}}},
    {"title": "4", "transform": [{"filter": "datum.p == 4"}], "width": 267, "height": 175, "mark": {"type": "line", "color": "#1f77b4", "strokeWidth": 2.1}, "encoding": {"x": {"field": "t", "type": "quantitative", "scale": {"domain": [-6.35, 133.35], "nice": false, "zero": false}, "axis": {"values": [0, 25, 50, 75, 100, 125], "title": null}}, "y": {"field": "v", "type": "quantitative", "scale": {"domain": [-0.05, 1.05], "nice": false, "zero": false}, "axis": {"values": [0, 0.2, 0.4, 0.6, 0.8, 1.0], "format": ".1f", "title": null}}}},
    {"title": "1", "transform": [{"filter": "datum.p == 5"}], "width": 267, "height": 175, "mark": {"type": "line", "color": "#1f77b4", "strokeWidth": 2.1}, "encoding": {"x": {"field": "t", "type": "quantitative", "scale": {"domain": [-6.35, 133.35], "nice": false, "zero": false}, "axis": {"values": [0, 25, 50, 75, 100, 125], "title": null}}, "y": {"field": "v", "type": "quantitative", "scale": {"domain": [-0.05, 1.05], "nice": false, "zero": false}, "axis": {"values": [0, 0.2, 0.4, 0.6, 0.8, 1.0], "format": ".1f", "title": null}}}},
    {"title": "1", "transform": [{"filter": "datum.p == 6"}], "width": 267, "height": 175, "mark": {"type": "line", "color": "#1f77b4", "strokeWidth": 2.1}, "encoding": {"x": {"field": "t", "type": "quantitative", "scale": {"domain": [-6.35, 133.35], "nice": false, "zero": false}, "axis": {"values": [0, 25, 50, 75, 100, 125], "title": null}}, "y": {"field": "v", "type": "quantitative", "scale": {"domain": [-0.05, 1.05], "nice": false, "zero": false}, "axis": {"values": [0, 0.2, 0.4, 0.6, 0.8, 1.0], "format": ".1f", "title": null}}}},
    {"title": "0", "transform": [{"filter": "datum.p == 7"}], "width": 267, "height": 175, "mark": {"type": "line", "color": "#1f77b4", "strokeWidth": 2.1}, "encoding": {"x": {"field": "t", "type": "quantitative", "scale": {"domain": [-6.35, 133.35], "nice": false, "zero": false}, "axis": {"values": [0, 25, 50, 75, 100, 125], "title": null}}, "y": {"field": "v", "type": "quantitative", "scale": {"domain": [-0.05, 1.05], "nice": false, "zero": false}, "axis": {"values": [0, 0.2, 0.4, 0.6, 0.8, 1.0], "format": ".1f", "title": null}}}},
    {"title": "3", "transform": [{"filter": "datum.p == 8"}], "width": 267, "height": 175, "mark": {"type": "line", "color": "#1f77b4", "strokeWidth": 2.1}, "encoding": {"x": {"field": "t", "type": "quantitative", "scale": {"domain": [-6.35, 133.35], "nice": false, "zero": false}, "axis": {"values": [0, 25, 50, 75, 100, 125], "title": null}}, "y": {"field": "v", "type": "quantitative", "scale": {"domain": [-0.05, 1.05], "nice": false, "zero": false}, "axis": {"values": [0, 0.2, 0.4, 0.6, 0.8, 1.0], "format": ".1f", "title": null}}}},
    {"title": "4", "transform": [{"filter": "datum.p == 9"}], "width": 267, "height": 175, "mark": {"type": "line", "color": "#1f77b4", "strokeWidth": 2.1}, "encoding": {"x": {"field": "t", "type": "quantitative", "scale": {"domain": [-6.35, 133.35], "nice": false, "zero": false}, "axis": {"values": [0, 25, 50, 75, 100, 125], "title": null}}, "y": {"field": "v", "type": "quantitative", "scale": {"domain": [-0.05, 1.05], "nice": false, "zero": false}, "axis": {"values": [0, 0.2, 0.4, 0.6, 0.8, 1.0], "format": ".1f", "title": null}}}}
  ],
  "config": {
    "font": "DejaVu Sans",
    "view": {"stroke": "#000000", "strokeWidth": 1.1},
    "axis": {"domain": false, "grid": false, "tickColor": "#000000", "tickSize": 4.9, "tickWidth": 1.1, "labelFont": "DejaVu Sans", "labelFontSize": 13.9, "labelColor": "#000000", "labelPadding": 4.9, "labelOverlap": false, "labelFlush": false},
    "title": {"font": "DejaVu Sans", "fontSize": 16.7, "fontWeight": "normal", "color": "#000000", "offset": 8.3, "baseline": "alphabetic", "anchor": "middle"}
  }
}
